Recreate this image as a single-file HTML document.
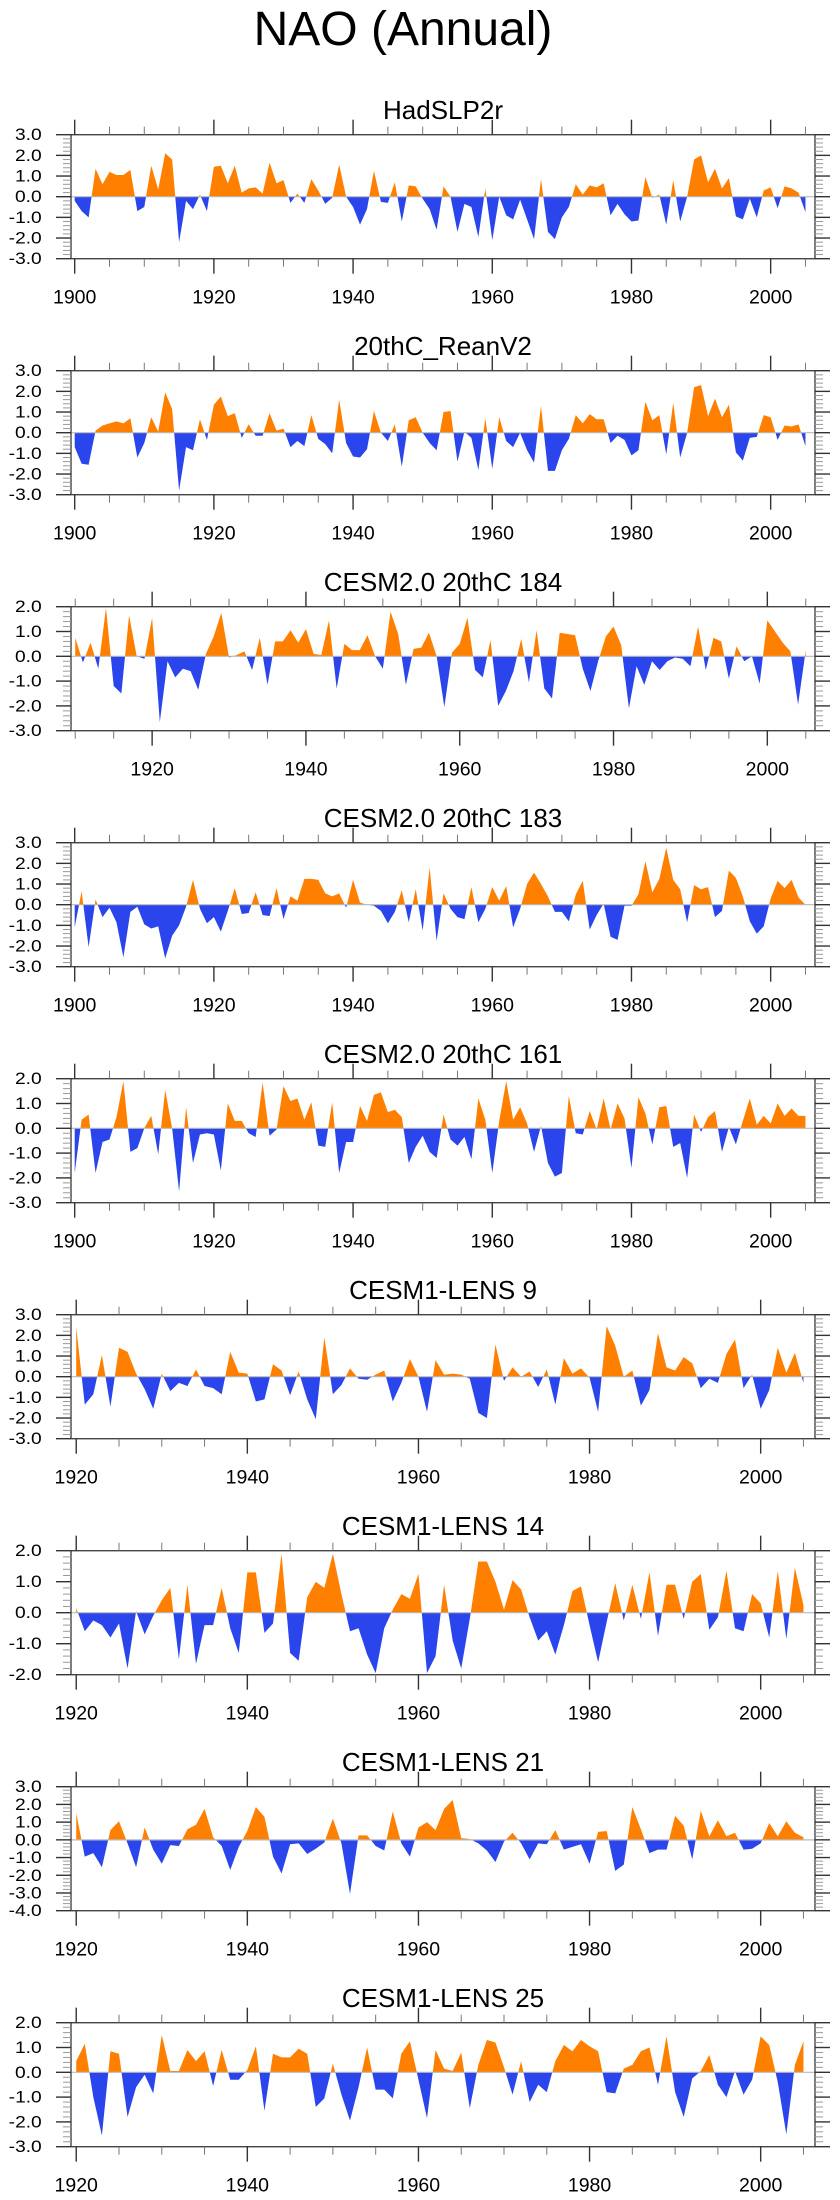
<!DOCTYPE html>
<html><head><meta charset="utf-8"><style>
html,body{margin:0;padding:0;background:#fff;}
svg{display:block;font-family:"Liberation Sans",sans-serif;}
</style></head><body>
<svg id="chart" width="840" height="2200" viewBox="0 0 840 2200" xmlns="http://www.w3.org/2000/svg">
<text x="403" y="45" font-size="48" text-anchor="middle" fill="#000">NAO (Annual)</text>
</svg>
<script>
const hadslp2r = [-0.2,-0.7,-1.0,1.35,0.6,1.2,1.05,1.05,1.3,-0.7,-0.5,1.5,0.35,2.1,1.8,-2.2,-0.2,-0.6,0.1,-0.7,1.45,1.5,0.65,1.5,0.2,0.4,0.45,0.15,1.65,0.65,0.8,-0.3,0.15,-0.3,0.85,0.3,-0.35,-0.05,1.55,0,-0.5,-1.35,-0.6,1.25,-0.25,-0.3,0.7,-1.2,0.55,0.5,-0.1,-0.6,-1.6,0.5,0,-1.7,-0.35,-0.5,-1.95,0.4,-2.1,0,-0.9,-1.1,-0.15,-1.1,-2.05,0.85,-1.7,-2.05,-1.0,-0.5,0.6,0.1,0.55,0.45,0.65,-0.9,-0.35,-0.85,-1.2,-1.15,0.95,-0.05,0.1,-1.35,0.8,-1.2,0,1.8,2.0,0.7,1.35,0.4,0.9,-0.95,-1.1,-0.1,-1.0,0.3,0.45,-0.55,0.5,0.4,0.2,-0.75];
const reanv2 = [-0.7,-1.5,-1.55,0.1,0.35,0.45,0.55,0.45,0.7,-1.2,-0.5,0.75,0.05,1.95,1.15,-2.8,-0.7,-0.85,0.65,-0.35,1.35,1.75,0.8,0.95,-0.25,0.4,-0.15,-0.15,0.95,0.1,0.2,-0.7,-0.4,-0.65,0.85,-0.3,-0.55,-1.0,1.6,-0.5,-1.15,-1.2,-0.8,1.05,0,-0.4,0.4,-1.65,0.6,0.75,0,-0.5,-0.85,1.0,1.05,-1.4,0.05,-0.25,-1.8,0.7,-1.75,0.75,-0.4,-0.7,0,-0.85,-1.45,1.3,-1.85,-1.85,-0.85,-0.3,0.85,0.45,0.9,0.65,0.65,-0.5,-0.15,-0.35,-1.1,-0.85,1.5,0.6,0.85,-1.05,1.45,-1.2,0,2.2,2.3,0.8,1.65,0.75,1.35,-0.95,-1.35,-0.25,-0.2,0.85,0.75,-0.35,0.35,0.3,0.4,-0.65];
const cesm2_184 = [0.75,-0.25,0.55,-0.5,1.95,-1.2,-1.5,1.65,0,-0.1,1.55,-2.65,-0.2,-0.85,-0.5,-0.6,-1.35,0.1,0.8,1.75,-0.05,0.05,0.2,-0.55,0.75,-1.15,0.6,0.6,1.05,0.55,1.1,0.1,0.05,1.45,-1.3,0.5,0.25,0.25,0.85,0,-0.5,1.8,0.9,-1.15,0.3,0.35,0.95,0,-2.05,0.15,0.5,1.55,-0.55,-0.85,0.65,-2.0,-1.4,-0.6,0.7,-1.05,1.05,-1.3,-1.7,0.95,0.9,0.85,-0.5,-1.4,-0.2,0.8,1.2,0.45,-2.1,-0.4,-1.15,-0.2,-0.55,-0.2,-0.05,-0.1,-0.4,1.2,-0.55,0.75,0.6,-0.9,0.4,-0.2,0,-1.1,1.45,1.0,0.55,0.2,-1.95,0.25];
const cesm2_183 = [-1.1,0.65,-2.05,0.25,-0.6,-0.15,-0.85,-2.55,-0.35,-0.1,-0.95,-1.15,-1.05,-2.6,-1.5,-1.0,-0.1,1.2,-0.2,-0.9,-0.6,-1.3,-0.3,0.8,-0.45,-0.4,0.6,-0.5,-0.55,0.8,-0.7,0.4,0.2,1.25,1.25,1.2,0.55,0.4,0.55,-0.15,1.2,0.1,0,-0.05,-0.3,-0.9,-0.35,0.7,-0.85,0.75,-1.25,1.8,-1.75,0.55,-0.2,-0.6,-0.7,0.85,-0.85,-0.2,0.85,0.2,0.9,-1.1,-0.2,1.0,1.55,1.0,0.4,-0.35,-0.35,-0.8,0.5,1.15,-1.2,-0.5,0.05,-1.55,-1.7,-0.05,-0.05,0.5,2.1,0.6,1.25,2.75,1.2,0.75,-0.85,0.95,0.75,0.85,-0.6,-0.3,1.65,1.3,0.4,-0.8,-1.4,-1.05,0.3,1.15,0.8,1.2,0.35,0.0];
const cesm2_161 = [-1.8,0.35,0.55,-1.8,-0.55,-0.45,0.45,1.9,-0.95,-0.8,0,0.5,-1.05,1.55,0,-2.55,0.85,-1.4,-0.25,-0.2,-0.25,-1.7,1.0,0.3,0.3,-0.2,-0.35,1.85,-0.3,-0.05,1.7,1.1,1.2,0.35,1.05,-0.7,-0.75,1.05,-1.8,-0.55,-0.55,0.9,0.3,1.35,1.45,0.65,0.75,0.45,-1.4,-0.75,-0.3,-0.95,-1.2,0.55,-0.45,-0.7,-0.35,-1.25,1.2,0.35,-1.8,0.3,1.9,0.35,0.85,0.2,-0.95,0.1,-1.4,-1.95,-1.8,1.3,-0.2,-0.25,0.7,-0.05,1.2,-0.05,1.0,0.4,-1.6,1.25,0.6,-0.65,0.85,0.9,-0.75,-0.6,-2.0,0.55,-0.15,0.45,0.7,-0.95,0.05,-0.65,0.3,1.2,0.15,0.5,0.2,1.0,0.5,0.8,0.5,0.5];
const lens9 = [2.4,-1.35,-0.85,1.05,-1.45,1.4,1.2,0.15,-0.6,-1.55,0.15,-0.7,-0.3,-0.45,0.35,-0.45,-0.55,-0.85,1.2,0.2,0.15,-1.2,-1.1,0.6,0.3,-0.9,0.25,-1.1,-2.05,1.9,-0.85,-0.4,0.4,-0.1,-0.15,0.1,0.3,-1.2,-0.3,0.85,0,-1.7,0.8,0.1,0.15,0.1,-0.1,-1.75,-2.0,1.55,-0.2,0.45,0,0.25,-0.5,0.35,-1.35,0.9,0.15,0.4,-0.05,-1.7,2.45,1.5,0,0.3,-1.4,-0.65,2.1,0.45,0.3,0.95,0.65,-0.55,-0.1,-0.3,1.1,1.8,-0.55,0.1,-1.55,-0.65,1.4,0.2,1.15,-0.3];
const lens14 = [0.15,-0.6,-0.25,-0.4,-0.8,-0.35,-1.8,0.05,-0.7,-0.1,0.4,0.8,-1.5,0.9,-1.65,-0.4,-0.4,0.8,-0.5,-1.3,1.3,1.3,-0.65,-0.35,1.9,-1.3,-1.55,0.5,1.0,0.8,1.9,0.6,-0.6,-0.5,-1.35,-1.95,-0.5,0.1,0.6,0.45,1.25,-1.95,-1.4,0.9,-0.9,-1.8,-0.2,1.65,1.65,1.0,0.1,1.05,0.75,-0.15,-0.9,-0.6,-1.35,-0.4,0.7,0.85,-0.4,-1.6,-0.3,0.95,-0.25,0.9,-0.2,1.3,-0.75,0.9,0.9,-0.2,1.0,1.25,-0.55,-0.15,1.35,-0.5,-0.6,0.6,0.3,-0.8,1.35,-0.85,1.45,0.25];
const lens21 = [1.5,-0.95,-0.75,-1.55,0.55,1.05,-0.2,-1.55,0.7,-0.55,-1.35,-0.3,-0.35,0.6,0.85,1.75,0.15,-0.35,-1.7,-0.4,0.5,1.85,1.3,-0.95,-1.9,-0.25,-0.2,-0.8,-0.5,-0.15,1.2,-0.2,-3.05,0.25,0.25,-0.35,-0.6,1.6,-0.2,-0.95,0.7,1.0,0.55,1.75,2.25,0.1,0.05,-0.2,-0.6,-1.25,-0.1,0.4,-0.2,-1.1,-0.2,-0.25,0.55,-0.55,-0.4,-0.25,-1.35,0.45,0.5,-1.75,-1.4,1.85,0.6,-0.75,-0.55,-0.55,1.35,0.8,-1.1,1.65,0.2,1.1,0.2,0.4,-0.55,-0.5,-0.2,0.95,0.2,1.05,0.4,0.15];
const lens25 = [0.45,1.15,-1.0,-2.55,0.85,0.75,-1.8,-0.6,-0.1,-0.85,1.5,0.05,0.05,0.9,0.45,0.85,-0.55,0.9,-0.3,-0.3,0.1,1.05,-1.55,0.75,0.6,0.6,0.95,0.75,-1.4,-1.05,0.35,-0.9,-1.95,-0.6,1.0,-0.7,-0.7,-1.05,0.75,1.25,-0.3,-1.85,0.9,0.15,0.05,0.8,-1.45,0.3,1.3,1.2,0.2,-0.9,0.45,-1.2,-0.5,-0.8,0.45,1.1,0.85,1.3,1.05,0.85,-0.8,-0.85,0.15,0.3,0.85,1.0,-0.5,1.45,-0.8,-1.8,-0.25,0.05,0.7,-0.5,-1.0,0.05,-0.9,-0.3,1.45,1.1,-0.4,-2.5,0.3,1.25];
const panelTitles = ["HadSLP2r","20thC_ReanV2","CESM2.0 20thC 184","CESM2.0 20thC 183","CESM2.0 20thC 161","CESM1-LENS 9","CESM1-LENS 14","CESM1-LENS 21","CESM1-LENS 25"];
const startYears = [1900,1900,1910,1900,1900,1920,1920,1920,1920];
const yMins = [-3,-3,-3,-3,-3,-3,-2,-4,-3];
const yMaxs = [3,3,2,3,2,3,2,3,2];
const xLabelYears = [1900,1920,1940,1960,1980,2000];
const series = [hadslp2r,reanv2,cesm2_184,cesm2_183,cesm2_161,lens9,lens14,lens21,lens25];

const NS="http://www.w3.org/2000/svg";
const svg=document.getElementById('chart');
function mk(tag,attrs,parent){const e=document.createElementNS(NS,tag);for(const k in attrs)e.setAttribute(k,attrs[k]);(parent||svg).appendChild(e);return e;}
const L=71,R=815,H=124;
function xDomain(start){
  if(start===1900) return [1899.47,2006.37];
  if(start===1910) return [1909.45,2006.2];
  return [1919.39,2006.35];
}
series.forEach(function(vals,i){
  const top=134.7+236*i, bot=top+H;
  const dom=xDomain(startYears[i]);
  const xs=function(yr){return L+(yr-dom[0])/(dom[1]-dom[0])*(R-L);};
  const ys=function(v){return bot-(v-yMins[i])/(yMaxs[i]-yMins[i])*H;};
  const g=mk('g',{});
  
  
  const t=mk('text',{x:(L+R)/2,y:top-15.5,'font-size':26,'text-anchor':'middle',fill:'#000'},g);
  t.textContent=panelTitles[i];
  
  
  const y0=ys(0);
  let d='M'+xs(startYears[i])+','+y0;
  vals.forEach(function(v,k){d+=' L'+xs(startYears[i]+k).toFixed(2)+','+ys(v).toFixed(2);});
  d+=' L'+xs(startYears[i]+vals.length-1)+','+y0+' Z';
  const cpA=mk('clipPath',{id:'ca'+i},g); mk('rect',{x:L,y:top,width:R-L,height:y0-top},cpA);
  const cpB=mk('clipPath',{id:'cb'+i},g); mk('rect',{x:L,y:y0,width:R-L,height:bot-y0},cpB);
  const pa=mk('path',{d:d,fill:'#ff8000','clip-path':'url(#ca'+i+')'},g);
  
  
  const pb=mk('path',{d:d,fill:'#2a45ec','clip-path':'url(#cb'+i+')'},g);
  
  
  const zl=mk('line',{x1:L,x2:R,y1:y0,y2:y0,stroke:'#b8b8b8','stroke-width':1.2},g);
  
  
  const box=mk('rect',{x:L,y:top,width:R-L,height:H,fill:'none',stroke:'#444','stroke-width':1.4},g);
  
  
  // x ticks
  for(let yr=Math.ceil(dom[0]/5)*5; yr<=dom[1]; yr+=5){
    const x=xs(yr), major=(yr%20===0), len=major?15:8;
    mk('line',{x1:x,x2:x,y1:top,y2:top-len,stroke:major?'#333':'#777','stroke-width':major?1.4:1},g);
    mk('line',{x1:x,x2:x,y1:bot,y2:bot+len,stroke:major?'#333':'#777','stroke-width':major?1.4:1},g);
  }
  xLabelYears.forEach(function(yr){
    if(yr<dom[0]||yr>dom[1]) return;
    const lt=mk('text',{x:xs(yr),y:bot+45,'font-size':19.5,'text-anchor':'middle',fill:'#000'},g);
    lt.textContent=String(yr);
    
    
  });
  // y ticks
  for(let k=Math.round(yMins[i]*5); k<=Math.round(yMaxs[i]*5); k++){
    const v=k/5, y=ys(v), major=(k%5===0), len=major?15:8;
    mk('line',{x1:L,x2:L-len,y1:y,y2:y,stroke:major?'#333':'#999','stroke-width':major?1.4:1},g);
    mk('line',{x1:R,x2:R+len,y1:y,y2:y,stroke:major?'#333':'#999','stroke-width':major?1.4:1},g);
    if(major){
      const s=v.toFixed(1);
      const yt=mk('text',{x:41.7,y:y+5.5,'font-size':17,'text-anchor':'end',fill:'#000',textLength:(s.length===4?33:26.7),lengthAdjust:'spacingAndGlyphs'},g);
      yt.textContent=s;
      
      
    }
  }
});
</script>
</body></html>
